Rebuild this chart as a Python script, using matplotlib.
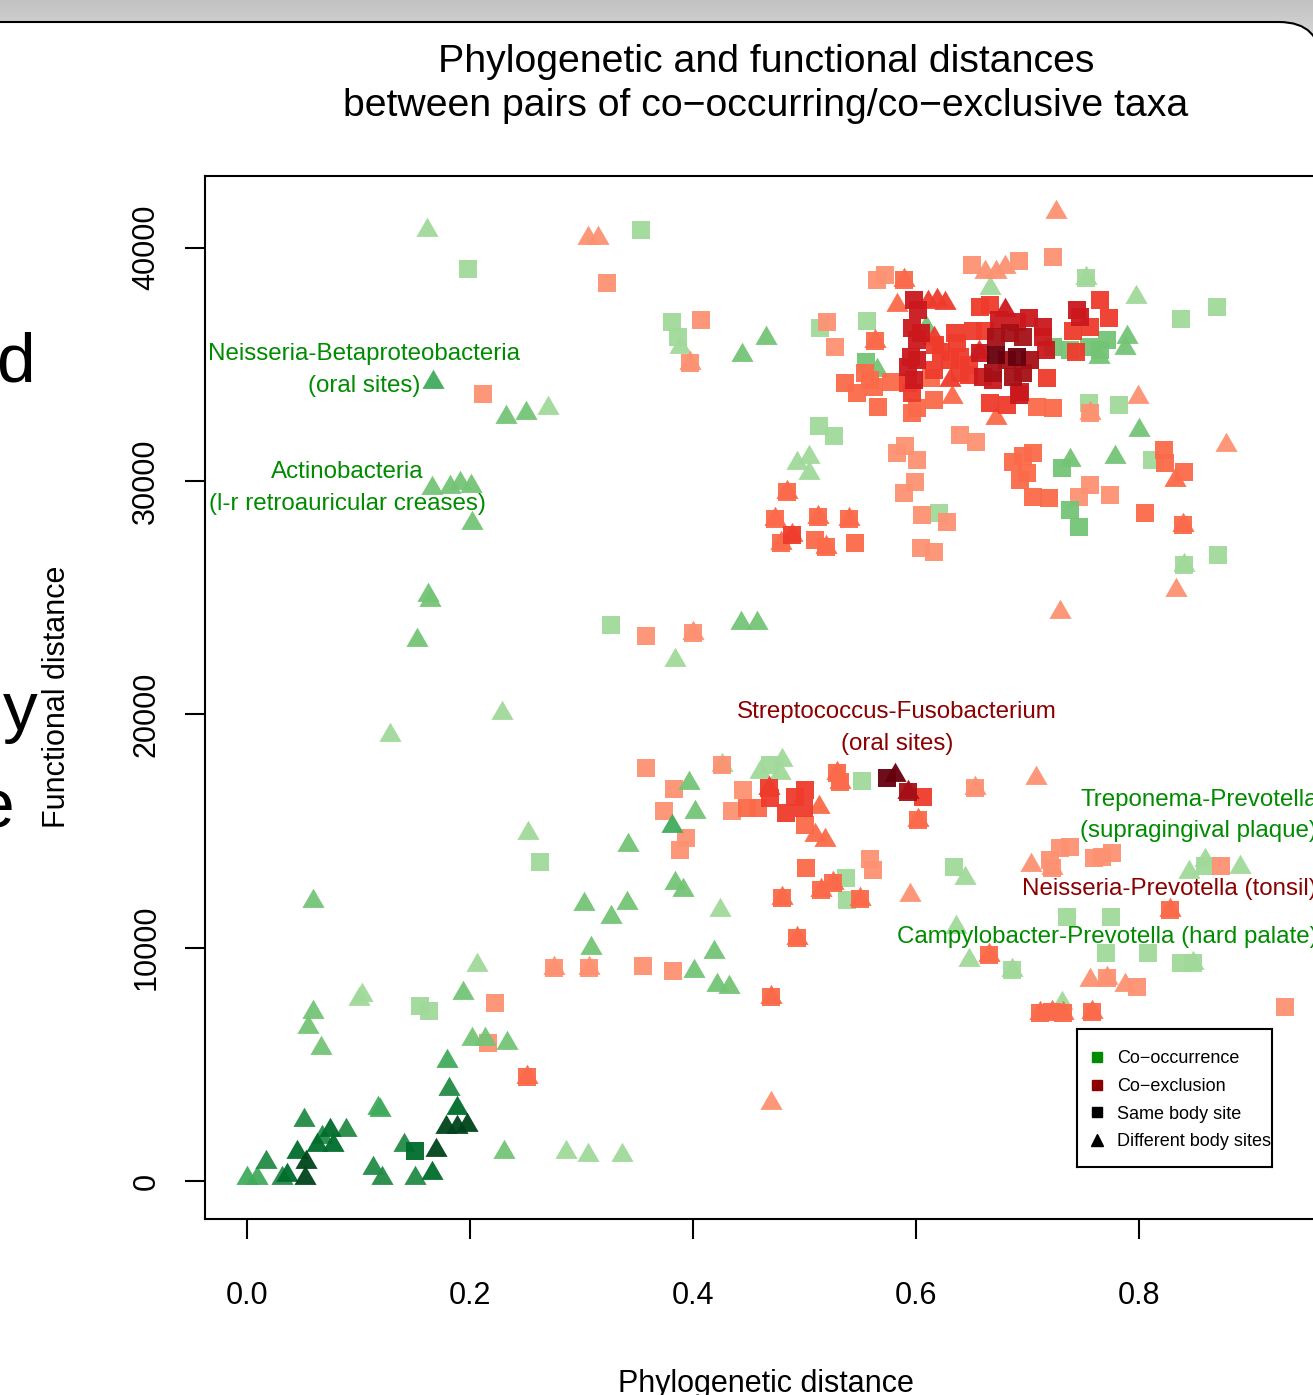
import numpy as np
import matplotlib
matplotlib.use('Agg')
import matplotlib.pyplot as plt
from matplotlib.patches import FancyBboxPatch
from matplotlib.lines import Line2D

plt.rcParams['font.family'] = ['Liberation Sans', 'DejaVu Sans']

# ---- data (x = phylogenetic, y = functional, shade 1..6) ----
# co-occurrence, different body sites (green triangles)
gt_x = [0.252, 0.059, 0.302, 0.308, 0.206, 0.103, 0.100, 0.194, 0.059, 0.055,
        0.066, 0.202, 0.213, 0.233, 0.179, 0.181, 0.188, 0.178, 0.188, 0.197,
        0.051, 0.117, 0.119, 0.074, 0.067, 0.089, 0.077, 0.063, 0.045, 0.053,
        0.017, 0.000, 0.009, 0.031, 0.036, 0.052, 0.113, 0.121, 0.141, 0.169,
        0.151, 0.166, 0.230, 0.286, 0.306, 0.336,
        0.161, 0.167, 0.232, 0.250, 0.270, 0.166, 0.182, 0.191, 0.201, 0.202,
        0.388, 0.465, 0.444, 0.493, 0.504, 0.504, 0.443, 0.457, 0.384,
        0.162, 0.164, 0.152, 0.128, 0.229,
        0.426, 0.460, 0.480, 0.478, 0.396, 0.402, 0.381, 0.342, 0.341, 0.326,
        0.384, 0.391, 0.424, 0.401, 0.419, 0.421, 0.432, 0.644, 0.636, 0.647,
        0.845, 0.859, 0.890, 0.686, 0.731, 0.848,
        0.666, 0.752, 0.797, 0.764, 0.789, 0.787, 0.738, 0.778, 0.800, 0.840,
        0.565, 0.609]
gt_y = [14900, 12010, 11870, 9990, 9260, 7970, 7800, 8040, 7260, 6610,
        5690, 6070, 6070, 5900, 5160, 3930, 3120, 2330, 2330, 2400,
        2610, 3120, 3040, 2190, 1900, 2190, 1540, 1540, 1260, 830,
        830, 120, 120, 120, 260, 120, 540, 120, 1540, 1330,
        120, 330, 1260, 1260, 1110, 1110,
        40760, 34260, 32760, 32930, 33120, 29690, 29760, 29900, 29790, 28190,
        35760, 36120, 35400, 30760, 31040, 30330, 23900, 23930, 22330,
        25100, 24900, 23190, 19110, 20060,
        17830, 17540, 18040, 17470, 17040, 15830, 15210, 14400, 11900, 11330,
        12760, 12470, 11610, 9000, 9830, 8400, 8330, 12970, 10900, 9470,
        13260, 13760, 13470, 9040, 7620, 9330,
        38260, 38690, 37900, 35330, 36190, 35690, 30900, 31040, 32190, 26400,
        34760, 36620]
gt_shade = [1, 2, 2, 2, 1, 1, 1, 2, 2, 2,
            2, 2, 2, 2, 3, 4, 5, 6, 6, 6,
            4, 3, 3, 5, 4, 4, 5, 5, 5, 6,
            4, 3, 3, 4, 5, 6, 4, 4, 4, 6,
            4, 5, 2, 1, 1, 1,
            1, 3, 2, 2, 1, 2, 2, 2, 2, 2,
            1, 2, 2, 1, 1, 1, 2, 2, 1,
            2, 2, 2, 1, 1,
            1, 1, 1, 1, 2, 2, 3, 2, 2, 2,
            2, 2, 1, 2, 2, 2, 2, 1, 1, 1,
            1, 1, 1, 1, 1, 1,
            1, 1, 1, 2, 2, 2, 2, 2, 2, 1,
            2, 2]

# co-occurrence, same body site (green squares)
gs_x = [0.263, 0.155, 0.163, 0.151, 0.198, 0.353, 0.381, 0.386, 0.514, 0.513,
        0.526, 0.326, 0.469, 0.551, 0.537, 0.538, 0.634, 0.735, 0.775, 0.770,
        0.808, 0.837, 0.848, 0.686, 0.859, 0.837, 0.870, 0.556, 0.555, 0.723,
        0.738, 0.755, 0.765, 0.771, 0.731, 0.738, 0.746, 0.755, 0.782, 0.811,
        0.871, 0.840, 0.620, 0.752]
gs_y = [13690, 7510, 7300, 1300, 39090, 40760, 36830, 36190, 36570, 32360,
        31930, 23830, 17830, 17160, 13000, 12040, 13470, 11330, 11330, 9760,
        9760, 9330, 9330, 9040, 13500, 36940, 37470, 36870, 35110, 35760,
        35620, 35760, 35620, 36040, 30540, 28760, 28040, 33330, 33260, 30900,
        26830, 26400, 28630, 38690]
gs_shade = [1, 1, 1, 5, 1, 1, 1, 1, 1, 1,
            1, 1, 1, 1, 1, 1, 1, 1, 1, 1,
            1, 1, 1, 1, 1, 1, 1, 1, 2, 2,
            2, 2, 2, 2, 2, 2, 2, 1, 1, 1,
            1, 1, 1, 1]

# co-exclusion, same body site (red squares)
rs_x = [0.275, 0.307, 0.222, 0.216, 0.251, 0.212, 0.323, 0.407, 0.397, 0.520,
        0.527, 0.536, 0.484, 0.473, 0.512, 0.540, 0.489, 0.479, 0.519, 0.509,
        0.545, 0.358, 0.400, 0.358, 0.426, 0.529, 0.532, 0.574, 0.593, 0.606,
        0.602, 0.653, 0.383, 0.374, 0.394, 0.388, 0.445, 0.435, 0.448, 0.458,
        0.468, 0.469, 0.491, 0.500, 0.483, 0.499, 0.500, 0.501, 0.559, 0.561,
        0.525, 0.515, 0.550, 0.480, 0.493, 0.355, 0.382, 0.470, 0.665, 0.720,
        0.722, 0.729, 0.738, 0.759, 0.767, 0.776, 0.873, 0.828, 0.771, 0.798,
        0.711, 0.722, 0.732, 0.758, 0.931,
        0.723, 0.650, 0.692, 0.565, 0.572, 0.589, 0.598, 0.602, 0.563, 0.596,
        0.604, 0.601, 0.635, 0.637, 0.657, 0.666, 0.674, 0.690, 0.701, 0.714,
        0.651, 0.662, 0.672, 0.684, 0.696, 0.714, 0.716, 0.690, 0.672, 0.681,
        0.702, 0.669, 0.687, 0.696, 0.657, 0.660, 0.669, 0.692, 0.693, 0.666,
        0.681, 0.708, 0.723, 0.717, 0.617, 0.622, 0.595, 0.601, 0.616, 0.598,
        0.593, 0.630, 0.639, 0.647, 0.639, 0.647, 0.554, 0.562, 0.547, 0.577,
        0.566, 0.559, 0.593, 0.596, 0.613, 0.616, 0.601, 0.596, 0.765, 0.773,
        0.744, 0.747, 0.756, 0.741, 0.743, 0.590, 0.583, 0.601, 0.599, 0.589,
        0.605, 0.628, 0.604, 0.616, 0.639, 0.654, 0.687, 0.696, 0.705, 0.699,
        0.693, 0.705, 0.719, 0.756, 0.746, 0.774, 0.805, 0.822, 0.823, 0.840,
        0.839, 0.756]
rs_y = [9130, 9130, 7640, 5930, 4470, 33730, 38470, 36900, 35070, 36820,
        35760, 34210, 29540, 28360, 28470, 28360, 27690, 27330, 27190, 27470,
        27330, 23370, 23470, 17710, 17830, 17470, 17110, 17260, 16690, 16450,
        15470, 16830, 16790, 15870, 14710, 14190, 16760, 15870, 15980, 15980,
        16830, 16410, 16470, 16760, 15760, 15980, 15260, 13400, 13790, 13330,
        12760, 12470, 12070, 12120, 10400, 9210, 9000, 7900, 9690, 13760,
        13400, 14260, 14300, 13830, 13900, 14040, 13500, 11610, 8690, 8330,
        7190, 7260, 7190, 7260, 7470,
        39590, 39260, 39430, 38610, 38830, 38610, 37760, 37330, 35980, 36550,
        36330, 36040, 36330, 35900, 37470, 37540, 36900, 36830, 36970, 36620,
        36410, 36410, 36190, 36330, 36190, 36190, 35620, 35330, 35400, 35190,
        35190, 34620, 34470, 34620, 35470, 34470, 34330, 33690, 33830, 33330,
        33260, 33190, 33120, 34400, 35830, 35540, 35330, 35190, 34760, 34330,
        34900, 35190, 35330, 34970, 34620, 34550, 34620, 34040, 33760, 34260,
        33190, 34330, 34190, 33760, 34400, 33470, 33120, 32900, 37760, 36970,
        37330, 37040, 36620, 36410, 35540, 31480, 31190, 30900, 29970, 29470,
        28540, 28260, 27120, 26970, 31970, 31690, 30830, 31050, 31190, 30330,
        30040, 29330, 29260, 29830, 29330, 29400, 28610, 31330, 30760, 30400,
        28110, 32900]
rs_shade = [1, 1, 1, 1, 2, 1, 1, 1, 1, 1,
            1, 2, 2, 2, 2, 2, 3, 2, 2, 2,
            2, 1, 1, 1, 1, 2, 2, 6, 5, 3,
            2, 1, 1, 1, 1, 1, 1, 1, 2, 2,
            3, 3, 3, 3, 3, 3, 2, 2, 1, 1,
            2, 2, 2, 2, 2, 1, 1, 2, 2, 1,
            1, 1, 1, 1, 1, 1, 1, 2, 1, 1,
            2, 2, 2, 2, 1,
            1, 1, 1, 1, 1, 2, 4, 4, 2, 4,
            4, 4, 3, 3, 3, 3, 4, 4, 4, 4,
            3, 3, 5, 5, 5, 4, 4, 6, 6, 5,
            5, 5, 5, 5, 4, 4, 4, 4, 4, 3,
            3, 2, 2, 3, 3, 3, 4, 4, 3, 4,
            4, 3, 3, 3, 3, 3, 2, 2, 2, 2,
            2, 2, 3, 3, 2, 2, 2, 2, 3, 3,
            4, 4, 3, 3, 3, 1, 1, 1, 1, 1,
            1, 1, 1, 1, 1, 1, 2, 2, 2, 2,
            2, 2, 2, 1, 1, 1, 2, 2, 2, 2,
            2, 1]

# co-exclusion, different body sites (red triangles)
rt_x = [0.275, 0.307, 0.251, 0.306, 0.315, 0.397, 0.484, 0.473, 0.512, 0.540,
        0.489, 0.519, 0.479, 0.400, 0.529, 0.532, 0.581, 0.593, 0.602, 0.653,
        0.468, 0.513, 0.509, 0.518, 0.525, 0.515, 0.550, 0.480, 0.594, 0.493,
        0.470, 0.470, 0.665, 0.707, 0.703, 0.722, 0.828, 0.756, 0.771, 0.787,
        0.711, 0.722, 0.732, 0.758, 0.725, 0.662, 0.672, 0.680, 0.589, 0.583,
        0.611, 0.619, 0.626, 0.563, 0.616, 0.680, 0.656, 0.630, 0.632, 0.672,
        0.799, 0.756, 0.832, 0.878, 0.839, 0.833, 0.729]
rt_y = [9130, 9130, 4470, 40420, 40420, 35070, 29540, 28360, 28470, 28360,
        27690, 27190, 27330, 23470, 17470, 17110, 17400, 16690, 15470, 16830,
        16830, 16040, 14830, 14610, 12760, 12470, 12070, 12120, 12260, 10400,
        7900, 3340, 9690, 17260, 13540, 13400, 11610, 8610, 8690, 8400,
        7190, 7260, 7190, 7260, 41540, 38970, 38970, 39190, 38610, 37540,
        37690, 37760, 37620, 35980, 36120, 37330, 35540, 34330, 33620, 32690,
        33620, 32900, 30040, 31540, 28110, 25330, 24390]
rt_shade = [1, 1, 2, 1, 1, 1, 2, 2, 2, 2,
            2, 2, 2, 1, 2, 2, 6, 5, 2, 1,
            3, 2, 2, 2, 2, 2, 2, 2, 1, 2,
            2, 1, 2, 1, 1, 1, 2, 1, 1, 1,
            2, 2, 2, 2, 1, 1, 1, 1, 2, 2,
            3, 3, 3, 2, 3, 4, 3, 3, 2, 2,
            1, 1, 2, 1, 2, 1, 1]

x_ticks = [0.0, 0.2, 0.4, 0.6, 0.8]
y_ticks = [0, 10000, 20000, 30000, 40000]

greens = ['#a1d99b', '#74c476', '#41ab5d', '#238b45', '#006d2c', '#00441b']
reds = ['#fc9272', '#fb6a4a', '#ef3b2c', '#cb181d', '#a50f15', '#67000d']
green_txt = '#008b00'
red_txt = '#8b0000'

W, H = 1313, 1395
fig = plt.figure(figsize=(W / 100, H / 100), dpi=100)

# slide background: grey bar on top, white rounded panel
bg = fig.add_axes([0, 0, 1, 1], zorder=0)
shade = np.linspace(0.76, 0.89, 60)
bg.imshow(np.dstack([shade, shade, shade]).reshape(60, 1, 3),
          extent=[0, W, 60, 0], aspect='auto')
bg.add_patch(FancyBboxPatch((-80, 22), W + 80 + 8, 1600,
                            boxstyle='round,pad=0,rounding_size=42',
                            fc='white', ec='black', lw=1.5))
bg.set_xlim(0, W)
bg.set_ylim(H, 0)
bg.axis('off')

# pieces of the slide text hidden behind the chart
bg.text(35, 382, 'd', fontsize=50, ha='right', va='baseline')
bg.text(38, 730, 'y', fontsize=50, ha='right', va='baseline')
bg.text(15, 828, 'e', fontsize=50, ha='right', va='baseline')

bg.text(766, 62, 'Phylogenetic and functional distances', fontsize=28.3,
        ha='center', va='center')
bg.text(766, 106, 'between pairs of co\u2212occurring/co\u2212exclusive taxa',
        fontsize=28.3, ha='center', va='center')
bg.text(766, 1369, 'Phylogenetic distance', fontsize=22, ha='center', va='top')
bg.text(57, 697, 'Functional distance', fontsize=22, rotation=90,
        ha='center', va='center')

ax = fig.add_axes([205 / W, (H - 1219) / H, (1340 - 205) / W, (1219 - 176) / H],
                  zorder=2)
ax.set_xlim(-0.0377, 0.98)
ax.set_ylim(-1630, 43070)

tri = [(0, 0.577), (-0.5, -0.289), (0.5, -0.289)]
groups = [
    (gt_x, gt_y, gt_shade, greens, tri, 340),
    (gs_x, gs_y, gs_shade, greens, 's', 168),
    (rt_x, rt_y, rt_shade, reds, tri, 340),
    (rs_x, rs_y, rs_shade, reds, 's', 168),
]
for xs, ys, lv, pal, mk, size in groups:
    assert len(xs) == len(ys) == len(lv)

for level in range(1, 7):
    for xs, ys, lv, pal, mk, size in groups:
        idx = [i for i, l in enumerate(lv) if l == level]
        if not idx:
            continue
        ax.scatter([xs[i] for i in idx], [ys[i] for i in idx], marker=mk,
                   s=size, color=pal[level - 1], linewidths=0, alpha=0.95,
                   zorder=3)

ax.set_xticks(x_ticks)
ax.set_xticklabels([f'{t:.1f}' for t in x_ticks])
ax.set_yticks(y_ticks)
ax.set_yticklabels([str(t) for t in y_ticks])
ax.tick_params(axis='both', length=14.5, width=1.5, labelsize=22)
ax.tick_params(axis='x', pad=30)
ax.tick_params(axis='y', pad=17, labelrotation=90)
for lab in ax.get_yticklabels():
    lab.set_va('center')
for sp in ax.spines.values():
    sp.set_linewidth(1.5)

# pair annotations
ax.text(0.105, 34760, 'Neisseria-Betaproteobacteria\n(oral sites)', color=green_txt,
        fontsize=17.4, ha='center', va='center', linespacing=1.55)
ax.text(0.0897, 29700, 'Actinobacteria\n(l-r retroauricular creases)', color=green_txt,
        fontsize=17.4, ha='center', va='center', linespacing=1.55)
ax.text(0.583, 19420, 'Streptococcus-Fusobacterium\n(oral sites)', color=red_txt,
        fontsize=17.4, ha='center', va='center', linespacing=1.55)
ax.text(0.747, 15660, 'Treponema-Prevotella\n(supragingival plaque)', color=green_txt,
        fontsize=17.4, ha='left', va='center', linespacing=1.55)
ax.text(0.695, 12510, 'Neisseria-Prevotella (tonsil)', color=red_txt,
        fontsize=17.4, ha='left', va='center')
ax.text(0.583, 10460, 'Campylobacter-Prevotella (hard palate)', color=green_txt,
        fontsize=17.4, ha='left', va='center')

# legend: box drawn as its own axes, entries placed inside without frame
lax = fig.add_axes([1077 / W, (H - 1167) / H, 195 / W, 138 / H], zorder=5)
lax.set_xticks([])
lax.set_yticks([])
for sp in lax.spines.values():
    sp.set_linewidth(1.5)

handles = [
    Line2D([], [], ls='none', marker='s', ms=7, color='#008b00'),
    Line2D([], [], ls='none', marker='s', ms=7, color='#8b0000'),
    Line2D([], [], ls='none', marker='s', ms=7, color='black'),
    Line2D([], [], ls='none', marker='^', ms=8, color='black'),
]
labels = ['Co\u2212occurrence', 'Co\u2212exclusion', 'Same body site',
          'Different body sites']
leg = fig.legend(handles, labels, loc='upper left',
                 bbox_to_anchor=(1091 / W, 1 - 1050 / H), fontsize=13,
                 frameon=False, borderpad=0, labelspacing=0.6,
                 handlelength=0.7, handletextpad=0.75, borderaxespad=0)
leg.set_zorder(10)

fig.savefig('out.png', dpi=100)
